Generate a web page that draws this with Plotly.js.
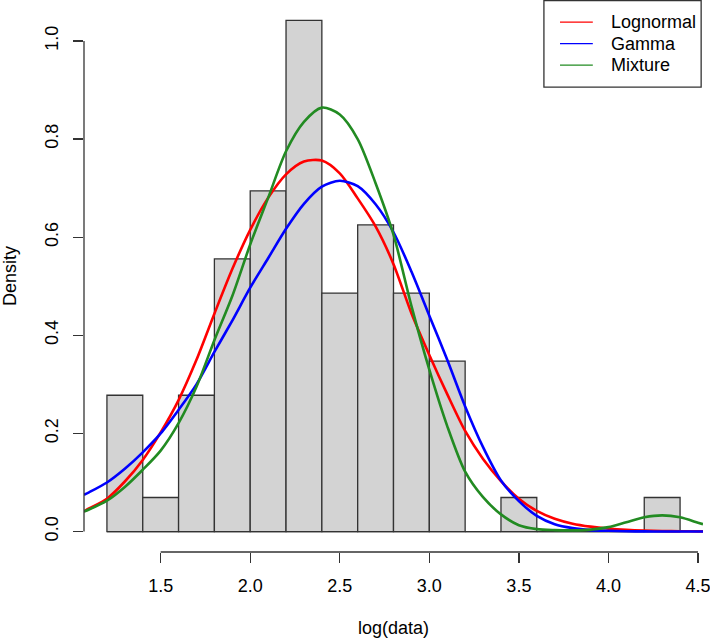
<!DOCTYPE html>
<html><head><meta charset="utf-8">
<script src="https://cdn.plot.ly/plotly-3.0.1.min.js"></script>
<style>html,body{margin:0;padding:0;background:#fff}</style>
</head><body>
<div id="chart" style="width:710px;height:641px"></div>
<script>
// Histogram of log(data): bin centres (bin width 0.2) and densities
const binCenters = [1.3,1.5,1.7,1.9,2.1,2.3,2.5,2.7,2.9,3.1,3.3,3.5,3.7,3.9,4.1,4.3];
const binDensity = [0.2778,0.0694,0.2778,0.5556,0.6944,1.0417,0.4861,0.625,0.4861,0.3472,0,0.0694,0,0,0,0.0694];
const binWidth = 0.2;

// Fitted density curves
const curveX = [1.072,1.1,1.2,1.3,1.4,1.5,1.6,1.7,1.8,1.9,2.0,2.1,2.2,2.3,2.4,2.5,2.6,2.7,2.8,2.9,3.0,3.1,3.2,3.3,3.4,3.5,3.6,3.7,3.8,3.9,4.0,4.1,4.2,4.3,4.4,4.5,4.528];
const lognormalY = [0.041,0.047,0.067,0.102,0.146,0.202,0.268,0.35,0.444,0.535,0.615,0.68,0.728,0.754,0.756,0.73,0.679,0.622,0.545,0.445,0.36,0.28,0.205,0.148,0.103,0.067,0.042,0.026,0.016,0.010,0.006,0.0035,0.002,0.0012,0.0007,0.0004,0.0003];
const gammaY = [0.075,0.08,0.100,0.128,0.1615,0.20,0.248,0.30,0.366,0.43,0.497,0.557,0.617,0.668,0.703,0.715,0.704,0.667,0.61,0.53,0.44,0.35,0.255,0.172,0.104,0.062,0.032,0.015,0.007,0.003,0.0015,0.0006,0.0003,0.0001,0.0001,0,0];
const mixtureY = [0.041,0.045,0.063,0.091,0.126,0.165,0.221,0.295,0.39,0.48,0.585,0.68,0.775,0.835,0.864,0.85,0.80,0.71,0.605,0.46,0.33,0.215,0.122,0.07,0.035,0.013,0.005,0.003,0.0025,0.004,0.009,0.019,0.029,0.033,0.029,0.018,0.015];

const seriesNames = ['Lognormal','Gamma','Mixture'];
const seriesColors = ['#ff0000','#0000ff','#228b22'];

const xTicks = [1.5,2.0,2.5,3.0,3.5,4.0,4.5];
const xTickLabels = ['1.5','2.0','2.5','3.0','3.5','4.0','4.5'];
const yTicks = [0,0.2,0.4,0.6,0.8,1.0];
const yTickLabels = ['0.0','0.2','0.4','0.6','0.8','1.0'];

const FONT = 'Liberation Sans, Arial, Helvetica, sans-serif';
const AX = '#333333';

const traces = [{
  type:'bar', x:binCenters, y:binDensity, width:binWidth,
  marker:{color:'#d3d3d3', line:{color:AX, width:1.3}},
  hoverinfo:'x+y', showlegend:false
}];
const ys = [lognormalY, gammaY, mixtureY];
ys.forEach((y,i)=>traces.push({
  type:'scatter', mode:'lines', x:curveX, y:y, name:seriesNames[i],
  line:{color:seriesColors[i], width:2.6, shape:'spline', smoothing:0.8},
  showlegend:false
}));

// histogram baseline under empty bins
const histLeft = binCenters[0] - binWidth/2;
const histRight = binCenters[binCenters.length-1] + binWidth/2;

// manual R-style legend (paper coords of plot area)
const legTop = 0.999, legBottom = 0.842, legLeft = 0.743, legRight = 0.997;
const legRows = [0.960, 0.921, 0.882];
const shapes = [
  {type:'line', xref:'x', yref:'y', x0:histLeft, x1:histRight, y0:0, y1:0, layer:'below', line:{color:AX, width:1.3}},
  {type:'line', xref:'x', yref:'paper', x0:xTicks[0], x1:xTicks[xTicks.length-1], y0:0, y1:0, line:{color:AX, width:1.3}},
  {type:'line', xref:'paper', yref:'y', x0:0, x1:0, y0:yTicks[0], y1:yTicks[yTicks.length-1], line:{color:AX, width:1.3}},
  {type:'rect', xref:'paper', yref:'paper', x0:legLeft, x1:legRight, y0:legBottom, y1:legTop, fillcolor:'#ffffff', line:{color:AX, width:1.3}}
];
const annotations = [];
seriesNames.forEach((n,i)=>{
  shapes.push({type:'line', xref:'paper', yref:'paper', x0:0.769, x1:0.822, y0:legRows[i], y1:legRows[i], line:{color:seriesColors[i], width:1.2}});
  annotations.push({xref:'paper', yref:'paper', x:0.848, y:legRows[i], xanchor:'left', yanchor:'middle', text:n, showarrow:false, font:{family:FONT, size:18, color:'#000'}});
});

const layout = {
  width:710, height:641,
  margin:{l:84, r:7, t:0, b:89, pad:0},
  paper_bgcolor:'#ffffff', plot_bgcolor:'#ffffff',
  showlegend:false, bargap:0,
  font:{family:FONT, size:18, color:'#000'},
  xaxis:{range:[1.072,4.528], tickmode:'array', tickvals:xTicks, ticktext:xTickLabels,
    ticks:'outside', ticklen:10, tickwidth:1.3, tickcolor:AX, ticklabelstandoff:7,
    ticklabeloverflow:'allow',
    showgrid:false, zeroline:false, showline:false, automargin:false,
    tickfont:{family:FONT, size:18, color:'#000'},
    title:{text:'log(data)', font:{family:FONT, size:18, color:'#000'}, standoff:26}},
  yaxis:{range:[-0.041667,1.083333], tickmode:'array', tickvals:yTicks, ticktext:yTickLabels,
    ticks:'outside', ticklen:10, tickwidth:1.3, tickcolor:AX, tickangle:-90, ticklabelstandoff:8,
    ticklabeloverflow:'allow',
    showgrid:false, zeroline:false, showline:false, automargin:false,
    tickfont:{family:FONT, size:18, color:'#000'},
    title:{text:'Density', font:{family:FONT, size:18, color:'#000'}, standoff:22}},
  shapes:shapes, annotations:annotations
};
Plotly.newPlot('chart', traces, layout, {displayModeBar:false, staticPlot:true});
</script>
</body></html>
